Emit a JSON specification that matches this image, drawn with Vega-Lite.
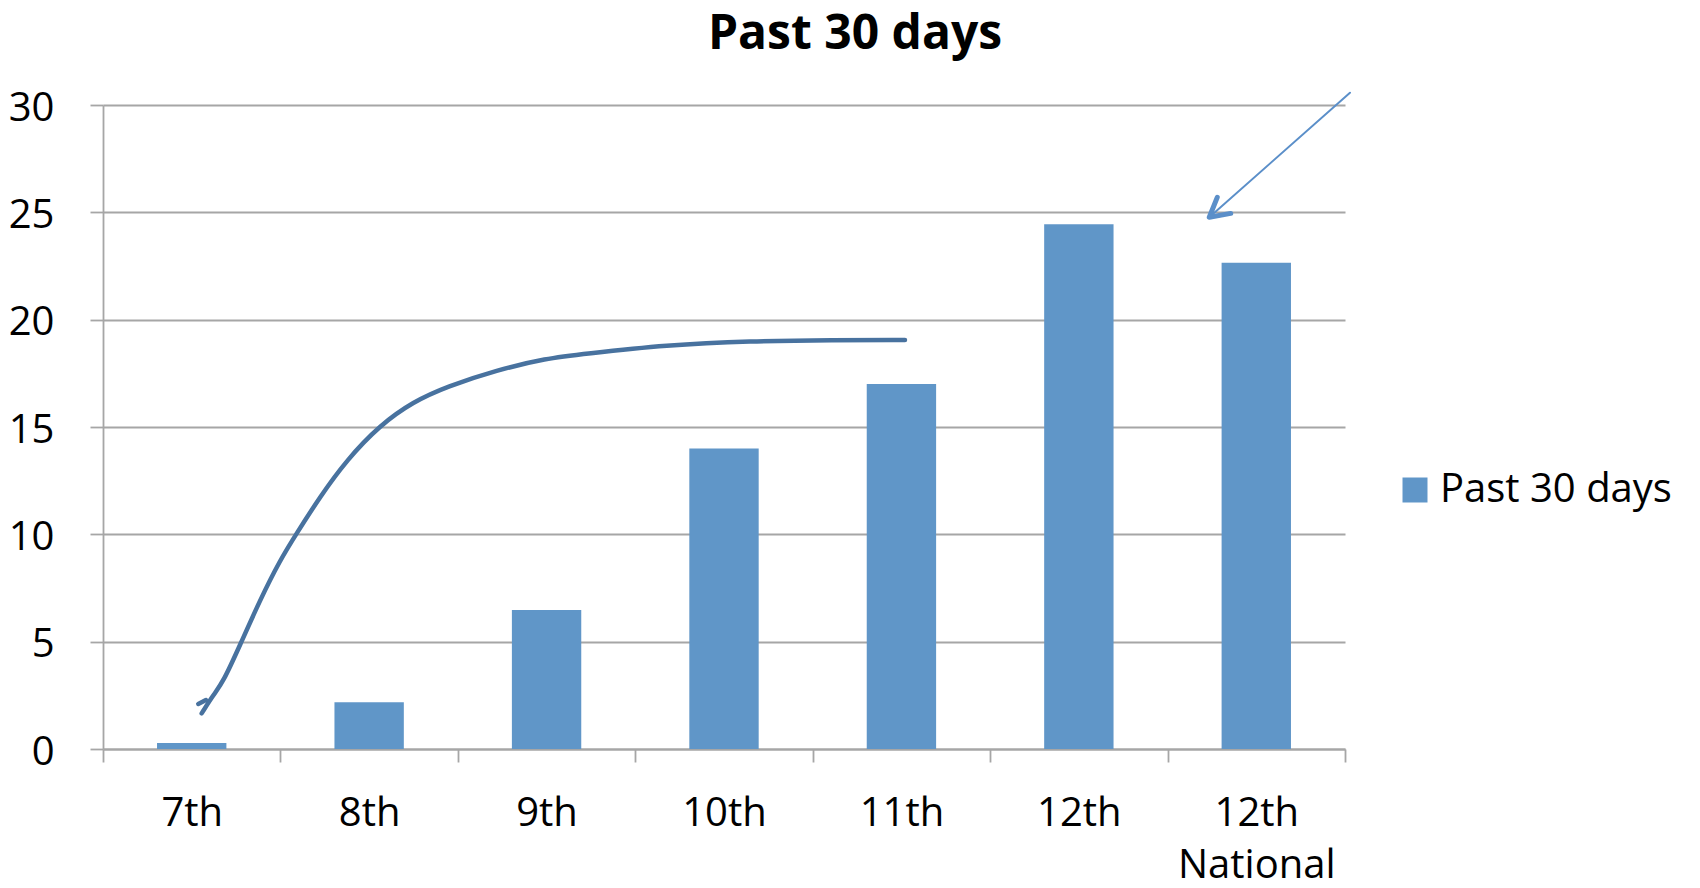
{
  "$schema": "https://vega.github.io/schema/vega-lite/v6.json",
  "autosize": {"type": "none"},
  "width": 1242,
  "height": 644,
  "padding": {"left": 103, "top": 105, "right": 355, "bottom": 139},
  "background": "white",
  "config": {"font": "Open Sans", "view": {"stroke": null}},
  "title": {"text": "Past 30 days", "font": "Open Sans", "fontSize": 48, "fontWeight": "bold", "color": "black", "anchor": "middle", "frame": "group", "dx": 131, "baseline": "alphabetic", "offset": -9},
  "datasets": {
    "bars": [
      {"grade": "7th", "y": 0.28, "series": "Past 30 days"},
      {"grade": "8th", "y": 2.18, "series": "Past 30 days"},
      {"grade": "9th", "y": 6.47, "series": "Past 30 days"},
      {"grade": "10th", "y": 14.0, "series": "Past 30 days"},
      {"grade": "11th", "y": 17.0, "series": "Past 30 days"},
      {"grade": "12th", "y": 24.45, "series": "Past 30 days"},
      {"grade": "12th National", "y": 22.65, "series": "Past 30 days"}
    ],
    "curve": [
      {"seg": "a", "ord": 0, "cx": 0.556, "y": 1.66},
      {"seg": "a", "ord": 1, "cx": 0.622, "y": 2.52},
      {"seg": "a", "ord": 2, "cx": 0.678, "y": 3.13},
      {"seg": "a", "ord": 3, "cx": 0.772, "y": 4.84},
      {"seg": "a", "ord": 4, "cx": 0.885, "y": 6.94},
      {"seg": "a", "ord": 5, "cx": 0.998, "y": 8.8},
      {"seg": "a", "ord": 6, "cx": 1.092, "y": 10.05},
      {"seg": "a", "ord": 7, "cx": 1.223, "y": 11.75},
      {"seg": "a", "ord": 8, "cx": 1.373, "y": 13.46},
      {"seg": "a", "ord": 9, "cx": 1.561, "y": 15.09},
      {"seg": "a", "ord": 10, "cx": 1.749, "y": 16.18},
      {"seg": "a", "ord": 11, "cx": 1.937, "y": 16.88},
      {"seg": "a", "ord": 12, "cx": 2.219, "y": 17.65},
      {"seg": "a", "ord": 13, "cx": 2.5, "y": 18.2},
      {"seg": "a", "ord": 14, "cx": 2.707, "y": 18.4},
      {"seg": "a", "ord": 15, "cx": 3.177, "y": 18.82},
      {"seg": "a", "ord": 16, "cx": 3.647, "y": 19.0},
      {"seg": "a", "ord": 17, "cx": 4.116, "y": 19.05},
      {"seg": "a", "ord": 18, "cx": 4.52, "y": 19.05},
      {"seg": "b", "ord": 0, "cx": 0.537, "y": 2.1},
      {"seg": "b", "ord": 1, "cx": 0.58, "y": 2.28}
    ],
    "shaft": [
      {"ord": 0, "cx": 7.028, "y": 30.57},
      {"ord": 1, "cx": 6.235, "y": 24.77}
    ],
    "head": [
      {"ord": 0, "cx": 6.28, "y": 25.7},
      {"ord": 1, "cx": 6.235, "y": 24.77},
      {"ord": 2, "cx": 6.356, "y": 24.95}
    ]
  },
  "encoding": {
    "y": {
      "field": "y",
      "type": "quantitative",
      "scale": {"domain": [0, 30], "nice": false, "zero": false},
      "axis": {
        "title": null,
        "values": [0, 5, 10, 15, 20, 25, 30],
        "grid": true,
        "gridColor": "#a6a6a6",
        "gridWidth": 1.8,
        "domainColor": "#a6a6a6",
        "domainWidth": 1.8,
        "tickColor": "#a6a6a6",
        "tickWidth": 1.8,
        "tickSize": 13,
        "labelFont": "Open Sans",
        "labelFontSize": 40,
        "labelColor": "black",
        "labelPadding": 36,
        "labelOffset": 3
      }
    }
  },
  "layer": [
    {
      "data": {"name": "bars"},
      "mark": {"type": "bar", "width": {"band": 0.391}},
      "encoding": {
        "x": {
          "field": "grade",
          "type": "nominal",
          "sort": null,
          "scale": {"paddingInner": 0, "paddingOuter": 0},
          "axis": {
            "title": null,
            "tickBand": "extent",
            "labelAngle": 0,
            "grid": false,
            "domainColor": "#a6a6a6",
            "domainWidth": 1.8,
            "tickColor": "#a6a6a6",
            "tickWidth": 1.8,
            "tickSize": 13,
            "labelFont": "Open Sans",
            "labelFontSize": 40,
            "labelColor": "black",
            "labelPadding": 31,
            "labelBaseline": "top",
            "labelLineHeight": 52,
            "labelExpr": "split(datum.label, ' ')"
          }
        },
        "color": {
          "field": "series",
          "type": "nominal",
          "scale": {"range": ["#6096c8"]},
          "legend": {
            "orient": "none",
            "legendX": 1292,
            "legendY": 365,
            "title": null,
            "symbolType": "square",
            "symbolSize": 625,
            "symbolStrokeWidth": 0,
            "labelFont": "Open Sans",
            "labelFontSize": 40,
            "labelColor": "black",
            "labelOffset": 5,
            "labelLimit": 400,
            "padding": 0
          }
        }
      }
    },
    {
      "data": {"name": "curve"},
      "mark": {"type": "line", "interpolate": "basis", "strokeWidth": 4.5, "color": "#48729f", "strokeCap": "round", "strokeJoin": "round"},
      "encoding": {
        "x": {"field": "cx", "type": "quantitative", "scale": {"domain": [0, 7], "nice": false, "zero": false}, "axis": null},
        "detail": {"field": "seg"},
        "order": {"field": "ord"}
      }
    },
    {
      "data": {"name": "shaft"},
      "mark": {"type": "line", "strokeWidth": 2, "color": "#5b8fc9", "strokeCap": "round"},
      "encoding": {
        "x": {"field": "cx", "type": "quantitative", "scale": {"domain": [0, 7], "nice": false, "zero": false}, "axis": null},
        "order": {"field": "ord"}
      }
    },
    {
      "data": {"name": "head"},
      "mark": {"type": "line", "strokeWidth": 5, "color": "#5b8fc9", "strokeCap": "round", "strokeJoin": "round"},
      "encoding": {
        "x": {"field": "cx", "type": "quantitative", "scale": {"domain": [0, 7], "nice": false, "zero": false}, "axis": null},
        "order": {"field": "ord"}
      }
    }
  ],
  "resolve": {"scale": {"x": "independent"}, "axis": {"x": "independent"}}
}
